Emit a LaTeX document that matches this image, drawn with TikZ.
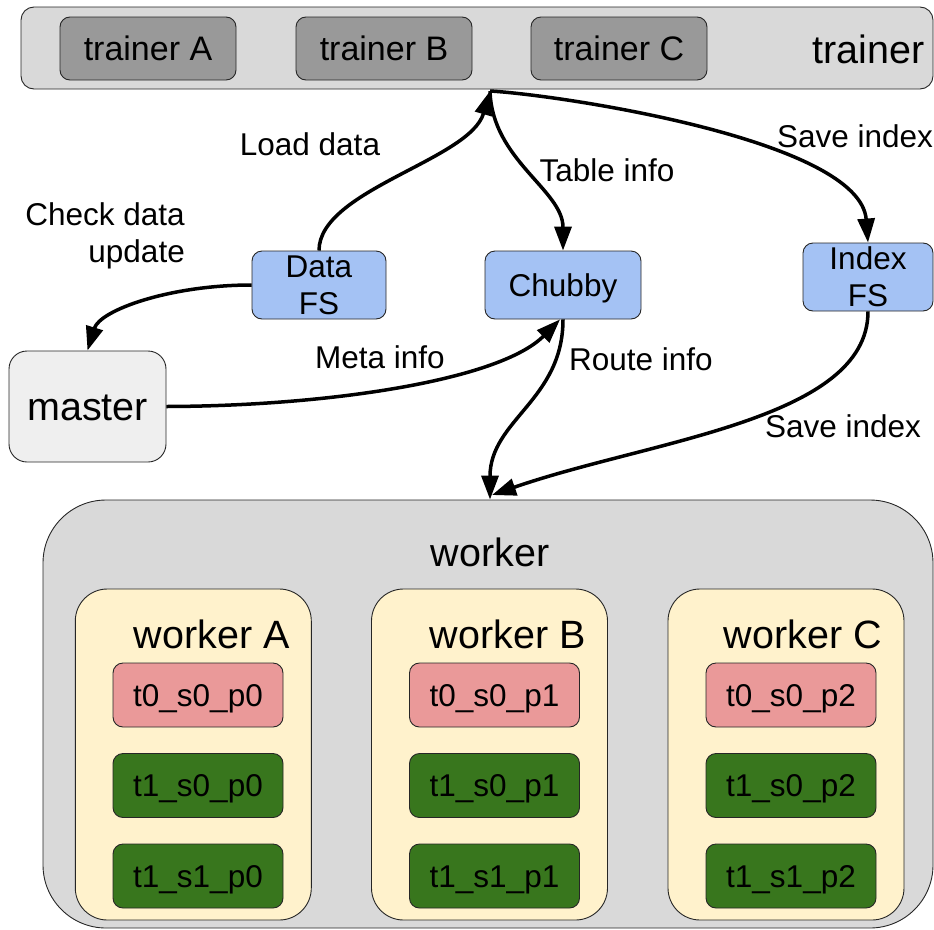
\documentclass[tikz,border=0pt]{standalone}
\usepackage{fontspec}
\setmainfont{Liberation Sans}
\usetikzlibrary{arrows.meta}
\definecolor{lgray}{HTML}{D9D9D9}
\definecolor{dgray}{HTML}{999999}
\definecolor{mgray}{HTML}{EFEFEF}
\definecolor{lblue}{HTML}{A4C2F4}
\definecolor{lyel}{HTML}{FFF2CC}
\definecolor{lred}{HTML}{EA9999}
\definecolor{dgreen}{HTML}{38761D}
\newcommand\szA{\fontsize{31.5}{37}\selectfont}
\newcommand\szB{\fontsize{34}{40}\selectfont}
\newcommand\szC{\fontsize{39.5}{46}\selectfont}
\begin{document}
\begin{tikzpicture}[x=1pt,y=-1pt,
  box/.style={draw=black!85,line width=0.9pt,rounded corners=10pt,inner sep=0pt},
  txtA/.style={font=\szA,text height=22.5pt,text depth=0pt},
  txtB/.style={font=\szB,text height=24.3pt,text depth=0pt},
  txtC/.style={font=\szC,text height=28.3pt,text depth=0pt},
  lbl/.style={font=\szA,inner sep=0pt,anchor=base},
  biglbl/.style={font=\szC,inner sep=0pt,anchor=base},
  trbox/.style={box,fill=dgray,minimum width=176pt,minimum height=63pt,txtB},
  fsbox/.style={box,fill=lblue,minimum height=68pt,font=\szA,align=center},
  wbox/.style={box,fill=lyel,rounded corners=32pt,minimum width=236pt,minimum height=331pt},
  tred/.style={box,fill=lred,minimum width=170pt,minimum height=64pt,txtA},
  tgreen/.style={box,fill=dgreen,minimum width=170pt,minimum height=64pt,txtA},
  arr/.style={line width=3.5pt,-{Triangle[length=24pt,width=17pt]}}]
\useasboundingbox (0,0) rectangle (934,929);

% trainer group
\node[box,fill=lgray,rounded corners=13pt,minimum width=912pt,minimum height=82pt] (trainer) at (477,48) {};
\node[trbox] (trA) at (148,48.5) {trainer A};
\node[trbox] (trB) at (384,48.5) {trainer B};
\node[trbox] (trC) at (619,48.5) {trainer C};
\node[biglbl,anchor=base east] (trlbl) at (925,63.3) {trainer};

% middle boxes
\node[fsbox,minimum width=134pt] (DataFS) at (319,285) {Data\\FS};
\node[box,fill=lblue,minimum width=156pt,minimum height=68pt,txtA] (Chubby) at (563,285) {Chubby};
\node[fsbox,minimum width=130pt] (IndexFS) at (868,277) {Index\\FS};
\node[box,fill=mgray,rounded corners=18pt,minimum width=157pt,minimum height=111pt,txtC] (master) at (87.5,406.5) {master};

% worker group
\node[box,fill=lgray,rounded corners=63pt,minimum width=890pt,minimum height=428pt] (worker) at (488,714) {};
\node[biglbl] (wlbl) at (490,566) {worker};
\node[wbox] (wA) at (193.3,754.5) {};
\node[wbox] (wB) at (489.5,754.5) {};
\node[wbox] (wC) at (786,754.5) {};
\node[biglbl,anchor=base east] (wAl) at (290,648) {worker A};
\node[biglbl,anchor=base east] (wBl) at (586,648) {worker B};
\node[biglbl,anchor=base east] (wCl) at (882,648) {worker C};

\node[tred] (a0) at (198,695) {t0\_s0\_p0};
\node[tgreen] (a1) at (198,785.5) {t1\_s0\_p0};
\node[tgreen] (a2) at (198,876) {t1\_s1\_p0};
\node[tred] (b0) at (494.5,695) {t0\_s0\_p1};
\node[tgreen] (b1) at (494.5,785.5) {t1\_s0\_p1};
\node[tgreen] (b2) at (494.5,876) {t1\_s1\_p1};
\node[tred] (c0) at (791,695) {t0\_s0\_p2};
\node[tgreen] (c1) at (791,785.5) {t1\_s0\_p2};
\node[tgreen] (c2) at (791,876) {t1\_s1\_p2};

% connector end points
\coordinate (tb) at (490,91);
\coordinate (wt) at (492,495);

% connectors
\draw[arr] (DataFS.north) .. controls (319,190) and (470,160) .. (tb);
\draw[arr] (tb) .. controls (492,160) and (563,190) .. (Chubby.north);
\draw[arr] (tb) .. controls (560,95) and (860,140) .. (IndexFS.north);
\draw[arr] (DataFS.west) .. controls (170,285) and (100,310) .. (master.north);
\draw[arr] (master.east) .. controls (330,406) and (500,380) .. ([xshift=-3pt]Chubby.south);
\draw[arr] (Chubby.south) .. controls (563,400) and (490,420) .. ([xshift=2pt]worker.north);
\draw[arr] (IndexFS.south) .. controls (868,420) and (650,440) .. (wt);

% labels
\node[lbl] (l1) at (310,155.7) {Load data};
\node[font=\szA,inner sep=0pt,align=right,anchor=north east] (l2) at (185,202.5) {Check data\\update};
\node[lbl] (l3) at (607,181) {Table info};
\node[lbl] (l4) at (855,147) {Save index};
\node[lbl] (l5) at (380,368) {Meta info};
\node[lbl] (l6) at (641,370) {Route info};
\node[lbl] (l7) at (843,437) {Save index};
\end{tikzpicture}
\end{document}
